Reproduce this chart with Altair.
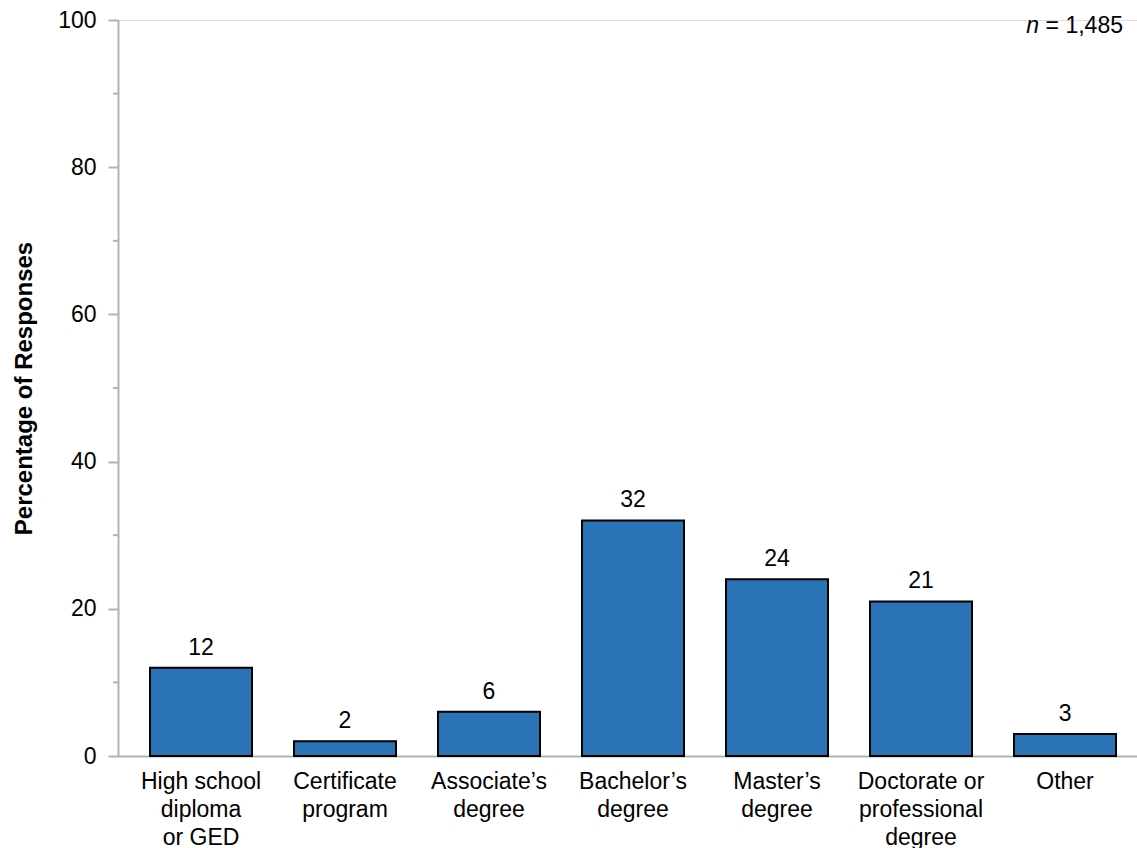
import altair as alt
import pandas as pd

categories = ["High school|diploma|or GED", "Certificate|program", "Associate\u2019s|degree",
              "Bachelor\u2019s|degree", "Master\u2019s|degree", "Doctorate or|professional|degree", "Other"]
values = [12, 2, 6, 32, 24, 21, 3]
minor_ticks = [10, 30, 50, 70, 90]
n_label = "= 1,485"

FONT = "Liberation Sans"
BLUE = "#2a74b5"
GREY = "#b3b3b3"
FS = 23

df = pd.DataFrame({"cat": categories, "val": values})
df_minor = pd.DataFrame({"v": minor_ticks})

xscale = alt.Scale(paddingInner=0.2917, paddingOuter=0.184, align=0.604)
yscale = alt.Scale(domain=[0, 100], nice=False)

x_enc = alt.X("cat:N", sort=categories, scale=xscale,
              axis=alt.Axis(title=None, labelAngle=0, ticks=False, domainColor=GREY, domainWidth=2,
                            labelExpr="split(datum.label, '|')", labelFont=FONT, labelFontSize=FS,
                            labelColor="black", labelLineHeight=28, labelPadding=14, labelBaseline="top"))

bars = alt.Chart(df).mark_bar(color=BLUE, stroke="black", strokeWidth=2).encode(
    x=x_enc,
    y=alt.Y("val:Q", scale=yscale,
            axis=alt.Axis(title="Percentage of Responses", values=[0, 20, 40, 60, 80, 100],
                          grid=False, domainColor=GREY, domainWidth=2, tickColor=GREY, tickWidth=2,
                          tickSize=10, labelPadding=12, labelFont=FONT, labelFontSize=FS,
                          labelColor="black", titleFont=FONT, titleFontSize=24, titleFontWeight="bold",
                          titleColor="black", titlePadding=21)),
)

texts = alt.Chart(df).mark_text(font=FONT, fontSize=FS, color="black", baseline="alphabetic", dy=-13).encode(
    x=alt.X("cat:N", sort=categories, scale=xscale),
    y=alt.Y("val:Q", scale=yscale),
    text="val:Q",
)

minor = alt.Chart(df_minor).mark_rule(color=GREY, strokeWidth=2).encode(
    y=alt.Y("v:Q", scale=yscale),
    x=alt.value(0),
    x2=alt.value(-5),
)

n_italic = alt.Chart(pd.DataFrame({"t": ["n"]})).mark_text(
    font=FONT, fontSize=FS, fontStyle="italic", color="black", align="right", baseline="alphabetic"
).encode(x=alt.value(921), y=alt.value(13), text="t:N")

n_rest = alt.Chart(pd.DataFrame({"t": [n_label]})).mark_text(
    font=FONT, fontSize=FS, color="black", align="right", baseline="alphabetic"
).encode(x=alt.value(1005), y=alt.value(13), text="t:N")

chart = alt.layer(bars, texts, minor, n_italic, n_rest).properties(
    width=1019, height=736,
    autosize=alt.AutoSizeParams(type="none"),
    padding={"left": 118, "top": 20, "right": 0, "bottom": 92},
).configure_view(stroke=None).configure(background="white")

chart.save("out.html", embed_options={"renderer": "svg", "actions": False})
